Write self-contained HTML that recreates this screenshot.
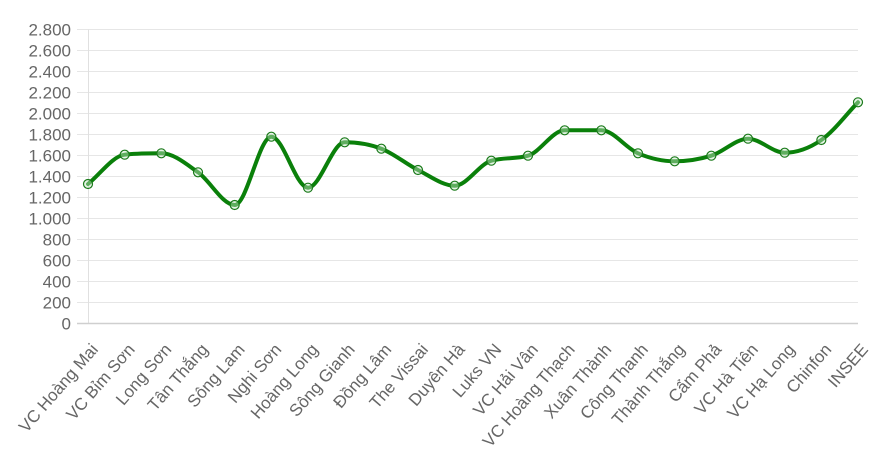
<!DOCTYPE html>
<html>
<head>
<meta charset="utf-8">
<style>
  html,body{margin:0;padding:0;background:#fff;}
  svg{display:block;}
  text{font-family:"Liberation Sans","DejaVu Sans",sans-serif;fill:#666;}
</style>
</head>
<body>
<svg id="chart" width="888" height="471" viewBox="0 0 888 471" xmlns="http://www.w3.org/2000/svg">
  <g stroke="#e6e6e6" stroke-width="1">
    <line x1="77" y1="302.5" x2="858" y2="302.5"/>
    <line x1="77" y1="281.5" x2="858" y2="281.5"/>
    <line x1="77" y1="260.5" x2="858" y2="260.5"/>
    <line x1="77" y1="239.5" x2="858" y2="239.5"/>
    <line x1="77" y1="218.5" x2="858" y2="218.5"/>
    <line x1="77" y1="197.5" x2="858" y2="197.5"/>
    <line x1="77" y1="176.5" x2="858" y2="176.5"/>
    <line x1="77" y1="155.5" x2="858" y2="155.5"/>
    <line x1="77" y1="134.5" x2="858" y2="134.5"/>
    <line x1="77" y1="113.5" x2="858" y2="113.5"/>
    <line x1="77" y1="92.5" x2="858" y2="92.5"/>
    <line x1="77" y1="71.5" x2="858" y2="71.5"/>
    <line x1="77" y1="50.5" x2="858" y2="50.5"/>
    <line x1="77" y1="29.5" x2="858" y2="29.5"/>
  </g>
  <line x1="88.5" y1="29.5" x2="88.5" y2="323.5" stroke="#e0e0e0" stroke-width="1"/>
  <line x1="77" y1="323.5" x2="858" y2="323.5" stroke="#cfcfcf" stroke-width="1.5"/>

  <g font-size="17" text-anchor="end">
    <text x="71" y="329.5">0</text>
    <text x="71" y="308.5">200</text>
    <text x="71" y="287.5">400</text>
    <text x="71" y="266.5">600</text>
    <text x="71" y="245.5">800</text>
    <text x="71" y="224.5">1.000</text>
    <text x="71" y="203.5">1.200</text>
    <text x="71" y="182.5">1.400</text>
    <text x="71" y="161.5">1.600</text>
    <text x="71" y="140.5">1.800</text>
    <text x="71" y="119.5">2.000</text>
    <text x="71" y="98.5">2.200</text>
    <text x="71" y="77.5">2.400</text>
    <text x="71" y="56.5">2.600</text>
    <text x="71" y="35.5">2.800</text>
  </g>

  <g font-size="17" text-anchor="end">
    <text transform="translate(99,350) rotate(-49)">VC Hoàng Mai</text>
    <text transform="translate(135.67,350) rotate(-49)">VC Bỉm Sơn</text>
    <text transform="translate(172.33,350) rotate(-49)">Long Sơn</text>
    <text transform="translate(209,350) rotate(-49)">Tân Thắng</text>
    <text transform="translate(245.67,350) rotate(-49)">Sông Lam</text>
    <text transform="translate(282.33,350) rotate(-49)">Nghi Sơn</text>
    <text transform="translate(319,350) rotate(-49)">Hoàng Long</text>
    <text transform="translate(355.67,350) rotate(-49)">Sông Gianh</text>
    <text transform="translate(392.33,350) rotate(-49)">Đồng Lâm</text>
    <text transform="translate(429,350) rotate(-49)">The Vissai</text>
    <text transform="translate(465.67,350) rotate(-49)">Duyên Hà</text>
    <text transform="translate(502.33,350) rotate(-49)">Luks VN</text>
    <text transform="translate(539,350) rotate(-49)">VC Hải Vân</text>
    <text transform="translate(575.67,350) rotate(-49)">VC Hoàng Thạch</text>
    <text transform="translate(612.33,350) rotate(-49)">Xuân Thành</text>
    <text transform="translate(649,350) rotate(-49)">Công Thanh</text>
    <text transform="translate(685.67,350) rotate(-49)">Thành Thắng</text>
    <text transform="translate(722.33,350) rotate(-49)">Cẩm Phả</text>
    <text transform="translate(759,350) rotate(-49)">VC Hà Tiên</text>
    <text transform="translate(795.67,350) rotate(-49)">VC Hạ Long</text>
    <text transform="translate(832.33,350) rotate(-49)">Chinfon</text>
    <text transform="translate(869,350) rotate(-49)">INSEE</text>
  </g>

  <path id="line" d="" fill="none" stroke="#0a800a" stroke-width="4" stroke-linejoin="round" stroke-linecap="round"/>
  <g id="points"></g>
</svg>
<script>
(function(){
  var ys=[184,154.7,153.3,172.3,205,136.7,187.7,142.3,148.7,170,185.7,160.7,155.7,130.3,130.3,153.3,161.3,155.7,138.7,152.7,140,102.3];
  var n=ys.length,pts=[];
  for(var i=0;i<n;i++){pts.push({x:88+i*(770/21),y:ys[i]});}
  var dK=[],mK=[];
  for(var i=0;i<n-1;i++){dK[i]=(pts[i+1].y-pts[i].y)/(pts[i+1].x-pts[i].x);}
  for(var i=0;i<n;i++){
    if(i===0)mK[i]=dK[0];
    else if(i===n-1)mK[i]=dK[n-2];
    else if(Math.sign(dK[i-1])!==Math.sign(dK[i]))mK[i]=0;
    else mK[i]=(dK[i-1]+dK[i])/2;
  }
  for(var i=0;i<n-1;i++){
    if(Math.abs(dK[i])<1e-9){mK[i]=0;mK[i+1]=0;continue;}
    var a=mK[i]/dK[i],b=mK[i+1]/dK[i],sq=a*a+b*b;
    if(sq<=9)continue;
    var tau=3/Math.sqrt(sq);
    mK[i]=a*tau*dK[i];mK[i+1]=b*tau*dK[i];
  }
  for(var i=0;i<n;i++){
    var p=pts[i];
    if(i>0){var dx=(p.x-pts[i-1].x)/3;p.c1x=p.x-dx;p.c1y=p.y-mK[i]*dx;}
    if(i<n-1){var dx2=(pts[i+1].x-p.x)/3;p.c2x=p.x+dx2;p.c2y=p.y+mK[i]*dx2;}
  }
  var d="M"+pts[0].x.toFixed(2)+","+pts[0].y.toFixed(2);
  for(var i=1;i<n;i++){
    var a=pts[i-1],b=pts[i];
    d+=" C"+a.c2x.toFixed(2)+","+a.c2y.toFixed(2)+" "+b.c1x.toFixed(2)+","+b.c1y.toFixed(2)+" "+b.x.toFixed(2)+","+b.y.toFixed(2);
  }
  document.getElementById("line").setAttribute("d",d);
  var g=document.getElementById("points"),ns="http://www.w3.org/2000/svg";
  for(var i=0;i<n;i++){
    var c=document.createElementNS(ns,"circle");
    c.setAttribute("cx",pts[i].x.toFixed(2));
    c.setAttribute("cy",pts[i].y.toFixed(2));
    c.setAttribute("r","4.5");
    c.setAttribute("fill","rgba(200,230,200,0.45)");
    c.setAttribute("stroke","#1a7a1a");
    c.setAttribute("stroke-width","1.2");
    g.appendChild(c);
  }
})();
</script>
</body>
</html>
